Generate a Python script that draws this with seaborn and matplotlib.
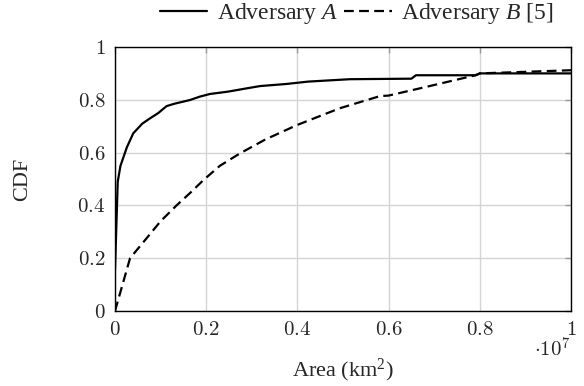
import matplotlib
matplotlib.use("Agg")
import matplotlib.pyplot as plt
import seaborn as sns
import numpy as np

# Data (x in units of 1e7 km^2)
A_x = [0, 0.006, 0.012, 0.02, 0.026, 0.040, 0.060, 0.077, 0.095, 0.113, 0.13,
       0.164, 0.186, 0.208, 0.248, 0.281, 0.318, 0.376, 0.424, 0.515, 0.65,
       0.66, 0.79, 0.80, 1.0]
A_y = [0.155, 0.49, 0.55, 0.59, 0.62, 0.673, 0.71, 0.73, 0.75, 0.776, 0.785,
       0.799, 0.812, 0.822, 0.831, 0.841, 0.852, 0.860, 0.869, 0.878, 0.880,
       0.893, 0.893, 0.900, 0.900]
B_x = [0, 0.033, 0.069, 0.10, 0.135, 0.164, 0.194, 0.23, 0.274, 0.33, 0.4,
       0.493, 0.581, 0.6, 0.69, 0.793, 0.8, 0.9, 1.0]
B_y = [0, 0.2, 0.275, 0.34, 0.40, 0.446, 0.496, 0.55, 0.597, 0.65, 0.705,
       0.768, 0.814, 0.816, 0.852, 0.894, 0.900, 0.906, 0.912]
scale = 1e7
x_ticks = [0, 0.2, 0.4, 0.6, 0.8, 1.0]
x_tick_labels = ["0", "0.2", "0.4", "0.6", "0.8", "1"]
y_ticks = [0, 0.2, 0.4, 0.6, 0.8, 1.0]
y_tick_labels = ["0", "0.2", "0.4", "0.6", "0.8", "1"]
label_A = "Adversary $A$"
label_B = "Adversary $B$ [5]"

sns.set_theme(style="white")
plt.rcParams["font.family"] = ["Liberation Serif", "DejaVu Serif"]
plt.rcParams["mathtext.fontset"] = "custom"
plt.rcParams["mathtext.rm"] = "Liberation Serif"
plt.rcParams["mathtext.it"] = "Liberation Serif:italic"

fig = plt.figure(figsize=(5.84, 3.86), dpi=100)
ax = fig.add_axes([115/584, 1-311/386, 456/584, 264/386])

sns.lineplot(x=np.array(A_x)*scale, y=A_y, ax=ax, color="black", lw=1.6,
             label=label_A, sort=False, estimator=None)
sns.lineplot(x=np.array(B_x)*scale, y=B_y, ax=ax, color="black", lw=1.6,
             label=label_B, sort=False, estimator=None)
ax.lines[1].set_dashes((4.4, 2.4))

ax.set_xlim(0, scale)
ax.set_ylim(0, 1)
ax.set_xticks([t*scale for t in x_ticks])
ax.set_xticklabels(["$%s$" % s for s in x_tick_labels], fontsize=15,
                   math_fontfamily="cm")
ax.set_yticks(y_ticks)
ax.set_yticklabels(["$%s$" % s for s in y_tick_labels], fontsize=15,
                   math_fontfamily="cm")
ax.tick_params(direction="in", length=4, width=1, color="#999999",
               top=True, right=True, pad=7)
ax.grid(True, color="#d4d4d4", lw=1)
ax.set_axisbelow(True)
for s in ax.spines.values():
    s.set_color("black")
    s.set_linewidth(1)

ax.set_xlabel("Area (km$^2$)", fontsize=16)
ax.set_ylabel("CDF", fontsize=16)
ax.xaxis.set_label_coords(0.5, -0.172)
ax.yaxis.set_label_coords(-0.182, 0.5)

ax.text(1.0, -0.145, r"$\cdot 10^7$", transform=ax.transAxes, ha="right",
        va="center", fontsize=15, math_fontfamily="cm")

leg = ax.legend(loc="center", bbox_to_anchor=(0.53, 1.125), ncol=2,
                frameon=False, fontsize=17, handlelength=2.0,
                columnspacing=0.3, handletextpad=0.4, borderaxespad=0)

fig.savefig("out.png", dpi=100)
